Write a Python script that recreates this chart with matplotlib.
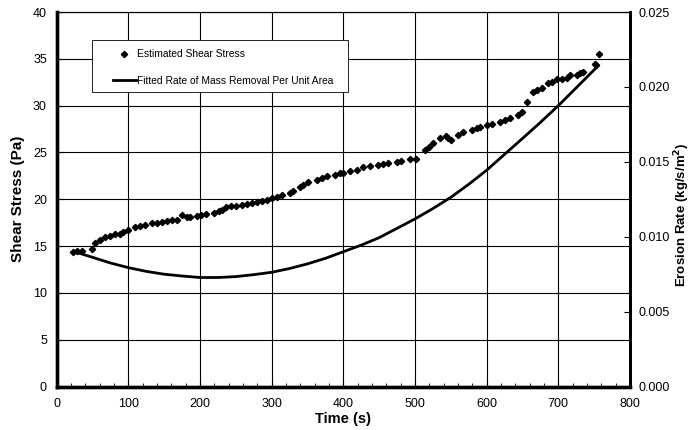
import numpy as np
import matplotlib.pyplot as plt
from matplotlib.ticker import MultipleLocator
from matplotlib.patches import Rectangle

plt.rcParams['font.family'] = ['Liberation Sans', 'DejaVu Sans']

# Estimated shear stress (Pa) vs time (s)
time_s = [23, 28, 35, 49, 54, 61, 68, 75, 81, 88, 93, 100, 109, 116, 123, 133, 140,
          147, 154, 161, 168, 175, 182, 186, 196, 202, 209, 219, 226, 231, 237, 244,
          251, 258, 265, 272, 279, 286, 293, 300, 307, 314, 326, 330, 340, 344, 351,
          363, 370, 377, 388, 395, 400, 409, 419, 428, 437, 449, 456, 463, 475, 481,
          493, 502, 514, 519, 525, 535, 544, 546, 551, 560, 567, 579, 586, 591, 600,
          607, 619, 626, 633, 644, 650, 656, 665, 670, 677, 686, 691, 698, 705, 712,
          716, 726, 730, 735, 751, 753, 757]
stress = [14.4, 14.5, 14.5, 14.66, 15.36, 15.65, 15.94, 16.1, 16.3, 16.3, 16.54, 16.7,
          17.07, 17.15, 17.25, 17.44, 17.5, 17.6, 17.7, 17.8, 17.8, 18.3, 18.14, 18.08,
          18.2, 18.3, 18.4, 18.5, 18.7, 18.9, 19.2, 19.28, 19.3, 19.4, 19.5, 19.64,
          19.74, 19.8, 19.9, 20.1, 20.28, 20.46, 20.64, 20.9, 21.28, 21.5, 21.8, 22.06,
          22.3, 22.5, 22.6, 22.78, 22.84, 23.06, 23.13, 23.42, 23.6, 23.66, 23.77,
          23.85, 24.0, 24.1, 24.27, 24.3, 25.27, 25.55, 26.0, 26.5, 26.76, 26.6, 26.3,
          26.87, 27.2, 27.4, 27.6, 27.7, 27.9, 28.0, 28.3, 28.5, 28.65, 29.0, 29.3,
          30.4, 31.5, 31.7, 31.86, 32.4, 32.56, 32.8, 32.9, 33.0, 33.3, 33.3, 33.46,
          33.6, 34.5, 34.35, 35.5]

# Fitted erosion rate (kg/s/m^2)
fit_time = [25, 50, 75, 100, 125, 150, 175, 200, 225, 250, 275, 300, 325, 350, 375,
            400, 425, 450, 475, 500, 525, 550, 575, 600, 625, 650, 675, 700, 725, 755]
fit_rate = [0.0090, 0.00863, 0.00825, 0.00794, 0.00769, 0.0075, 0.00738, 0.00728,
            0.00728, 0.00734, 0.00747, 0.00763, 0.00788, 0.00819, 0.00856, 0.0090,
            0.00944, 0.00994, 0.01056, 0.01119, 0.01188, 0.01263, 0.0135, 0.01444,
            0.0155, 0.01656, 0.01763, 0.01875, 0.01994, 0.02138]

fig = plt.figure(figsize=(6.93, 4.30), dpi=100)
ax = fig.add_axes([0.0817, 0.101, 0.8273, 0.871])
ax2 = ax.twinx()

ax.set_xlim(0, 800)
ax.set_ylim(0, 40)
ax2.set_ylim(0, 0.025)
ax.xaxis.set_major_locator(MultipleLocator(100))
ax.xaxis.set_minor_locator(MultipleLocator(20))
ax.yaxis.set_major_locator(MultipleLocator(5))
ax2.yaxis.set_major_locator(MultipleLocator(0.005))
ax2.yaxis.set_major_formatter(plt.FormatStrFormatter('%.3f'))

ax.grid(True, color='black', linewidth=0.8)
ax.set_axisbelow(True)

sc, = ax.plot(time_s, stress, linestyle='none', marker='D', markersize=3.2,
              color='black', label='Estimated Shear Stress')
ln, = ax2.plot(fit_time, fit_rate, color='black', linewidth=2,
               label='Fitted Rate of Mass Removal Per Unit Area')

for a in (ax, ax2):
    for s in a.spines.values():
        s.set_linewidth(0.8)
    a.spines['left'].set_linewidth(2.4)
    a.spines['bottom'].set_linewidth(2.4)
    a.spines['right'].set_linewidth(2.0)

ax.tick_params(axis='x', which='major', direction='in', length=4, labelsize=9, pad=8)
ax.tick_params(axis='x', which='minor', direction='in', length=3)
ax.tick_params(axis='y', direction='in', length=4, labelsize=9, pad=7)
ax2.tick_params(axis='y', direction='in', length=4, labelsize=9, pad=6)

ax.set_xlabel('Time (s)', fontsize=10.5, fontweight='bold', labelpad=2)
ax.set_ylabel('Shear Stress (Pa)', fontsize=11, fontweight='bold', labelpad=6)
fig.text(0.999, 0.50, 'Erosion Rate (kg/s/m$^\\mathbf{2}$)', rotation=90,
         fontsize=9.5, fontweight='bold', ha='right', va='center')

# legend box
ax2.add_patch(Rectangle((0.0617, 0.7866), 0.4463, 0.1389, transform=ax.transAxes,
                        facecolor='white', edgecolor='black', linewidth=0.6, zorder=3))
leg = ax2.legend(handles=[sc, ln], loc='upper left', bbox_to_anchor=(0.0896, 0.914),
                 fontsize=7.4, frameon=False, borderpad=0, labelspacing=1.6,
                 handlelength=2.2, handletextpad=0.1)
leg.set_zorder(4)

fig.savefig('out.png', dpi=100)
